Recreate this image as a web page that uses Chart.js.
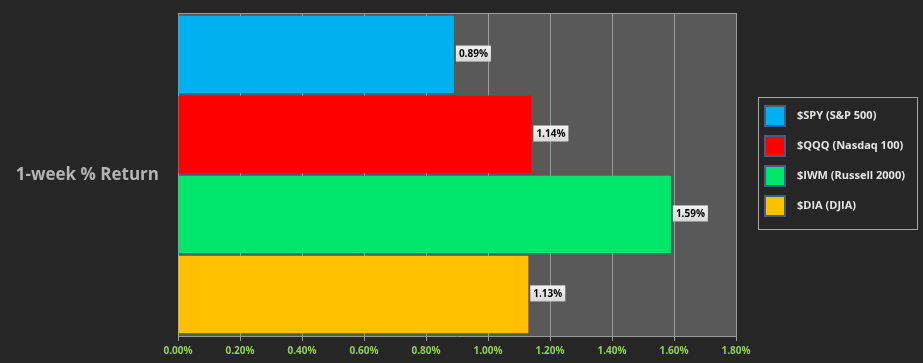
<!DOCTYPE html>
<html>
<head>
<meta charset="utf-8">
<script src="https://cdn.jsdelivr.net/npm/chart.js@4"></script>
<style>
  html, body { margin: 0; padding: 0; background: #262626; }
  #wrap { width: 923px; height: 363px; position: relative; }
</style>
</head>
<body>
<div id="wrap"><canvas id="chart" width="923" height="363"></canvas></div>
<script>
const category = ['1-week % Return'];
const tickers = ['$SPY (S&P 500)', '$QQQ (Nasdaq 100)', '$IWM (Russell 2000)', '$DIA (DJIA)'];
const returns = [0.89, 1.14, 1.59, 1.13];
const colors = ['#00B0F0', '#FF0000', '#00E66B', '#FFC000'];

// plot background
const plotBg = {
    id: 'plotBg',
    beforeDraw(chart) {
        const {ctx, chartArea: a} = chart;
        ctx.save();
        ctx.fillStyle = '#595959';
        ctx.fillRect(a.left, a.top, a.right - a.left, a.bottom - a.top);
        ctx.strokeStyle = '#9a9a9a';
        ctx.lineWidth = 1;
        ctx.beginPath();
        ctx.moveTo(a.left, a.top + 0.5);
        ctx.lineTo(a.right, a.top + 0.5);
        ctx.stroke();
        ctx.restore();
    }
};

// category label on the left, horizontal
const catLabel = {
    id: 'catLabel',
    afterDraw(chart) {
        const {ctx, chartArea: a} = chart;
        ctx.save();
        ctx.font = 'bold 17px "Open Sans", sans-serif';
        ctx.fillStyle = '#b4b4b4';
        ctx.textAlign = 'right';
        ctx.textBaseline = 'middle';
        ctx.fillText(chart.data.labels[0], a.left - 19, (a.top + a.bottom) / 2 + 1);
        ctx.restore();
    }
};

// value boxes at the end of each bar
const valueLabels = {
    id: 'valueLabels',
    afterDatasetsDraw(chart) {
        const ctx = chart.ctx;
        ctx.save();
        ctx.font = 'bold 10px "Open Sans", sans-serif';
        ctx.textBaseline = 'middle';
        chart.data.datasets.forEach((ds, i) => {
            const bar = chart.getDatasetMeta(i).data[0];
            const txt = ds.data[0].toFixed(2) + '%';
            const w = ctx.measureText(txt).width + 6;
            const x = bar.x + 2;
            const y = bar.y - 1;
            const g = ctx.createLinearGradient(x, y - 8, x, y + 8);
            g.addColorStop(0, '#f4f4f4');
            g.addColorStop(1, '#d8d8d8');
            ctx.fillStyle = g;
            ctx.fillRect(x, y - 8, w, 16);
            ctx.fillStyle = '#000';
            ctx.fillText(txt, x + 3, y + 1);
        });
        ctx.restore();
    }
};

// boxed legend on the right
const boxLegend = {
    id: 'boxLegend',
    afterDraw(chart) {
        const ctx = chart.ctx;
        ctx.save();
        ctx.strokeStyle = '#a6a6a6';
        ctx.lineWidth = 1;
        ctx.strokeRect(758.5, 97.5, 159, 132);
        ctx.font = 'bold 11px "Open Sans", sans-serif';
        ctx.textBaseline = 'middle';
        tickers.forEach((t, i) => {
            const y = 116 + i * 30;
            ctx.fillStyle = colors[i];
            ctx.fillRect(765, y - 10, 20, 20);
            ctx.strokeStyle = '#3f5f86';
            ctx.lineWidth = 2;
            ctx.strokeRect(765, y - 10, 20, 20);
            ctx.fillStyle = '#e6e6e6';
            ctx.fillText(t, 797, y);
        });
        ctx.restore();
    }
};

new Chart(document.getElementById('chart'), {
    type: 'bar',
    data: {
        labels: category,
        datasets: tickers.map((t, i) => ({
            label: t,
            data: [returns[i]],
            backgroundColor: colors[i],
            borderWidth: 0,
            categoryPercentage: 0.99,
            barPercentage: 0.97
        }))
    },
    options: {
        indexAxis: 'y',
        responsive: false,
        animation: false,
        layout: {padding: {top: 13, right: 187, left: 0, bottom: 0}},
        plugins: {legend: {display: false}, tooltip: {enabled: false}},
        scales: {
            x: {
                min: 0, max: 1.8,
                ticks: {
                    stepSize: 0.2,
                    color: '#92D050',
                    font: {family: '"Open Sans", sans-serif', size: 10, weight: 'bold'},
                    padding: 4,
                    callback: v => v.toFixed(2) + '%'
                },
                grid: {color: '#9a9a9a', tickLength: 5, drawTicks: true},
                border: {color: '#9a9a9a'},
                afterFit(s) { s.height = 27; }
            },
            y: {
                ticks: {display: false},
                grid: {display: false},
                border: {display: false},
                afterFit(s) { s.width = 178; }
            }
        }
    },
    plugins: [plotBg, valueLabels, catLabel, boxLegend]
});
</script>
</body>
</html>
